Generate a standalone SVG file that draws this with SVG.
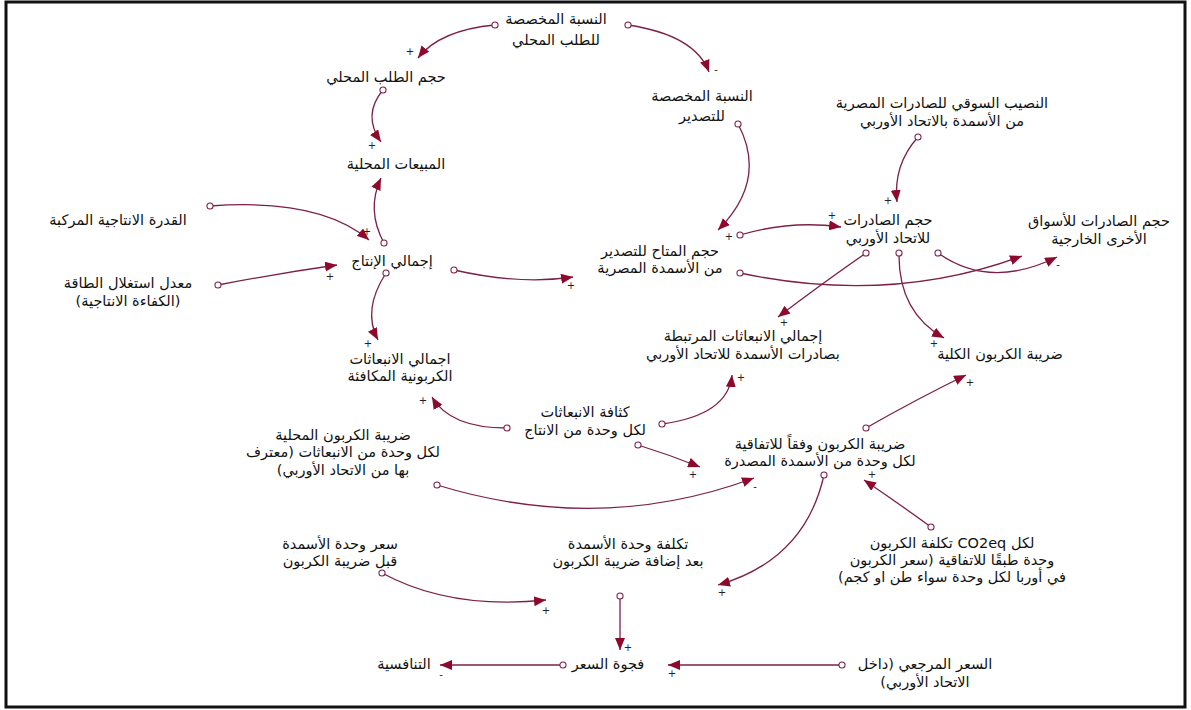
<svg xmlns="http://www.w3.org/2000/svg" width="1191" height="710" viewBox="0 0 1191 710">
<defs>
<style>
text{font-family:"DejaVu Sans","Noto Sans",sans-serif;font-size:14.5px;fill:#111;text-anchor:middle;direction:rtl;dominant-baseline:middle}
.s{font-size:10px;direction:ltr;fill:#222}
.c{fill:none;stroke:#7d2048;stroke-width:1.3;marker-start:url(#tc);marker-end:url(#ah)}
</style>
<marker id="ah" viewBox="0 0 12 10" refX="12" refY="5" markerWidth="12" markerHeight="10" markerUnits="userSpaceOnUse" orient="auto"><path d="M0,0 L12,5 L0,10 z" fill="#8e0a2c"/></marker>
<marker id="tc" viewBox="0 0 10 10" refX="5" refY="5" markerWidth="9" markerHeight="9" markerUnits="userSpaceOnUse"><circle cx="5" cy="5" r="3.4" fill="#fff" stroke="#7d2048" stroke-width="1.2"/></marker>
</defs>
<rect x="0" y="0" width="1191" height="710" fill="#fff"/>
<rect x="6" y="2" width="1179" height="705" fill="none" stroke="#111" stroke-width="3"/>

<g id="connectors">
<path class="c" d="M495,25 Q440,30 418,58"/>
<path class="c" d="M628,25 Q695,35 709,72"/>
<path class="c" d="M383,90 Q362,115 381,142"/>
<path class="c" d="M384,243 Q366,210 381,178"/>
<path class="c" d="M210,206 Q320,198 369,240"/>
<path class="c" d="M218,285 Q280,273 337,265"/>
<path class="c" d="M454,270 Q520,285 573,277"/>
<path class="c" d="M386,273 Q362,310 378,340"/>
<path class="c" d="M738,124 Q768,180 718,230"/>
<path class="c" d="M740,235 Q790,220 841,227"/>
<path class="c" d="M740,273 Q890,305 1022,256"/>
<path class="c" d="M938,253 Q990,290 1057,257"/>
<path class="c" d="M918,137 Q893,165 897,202"/>
<path class="c" d="M866,253 Q820,285 778,317"/>
<path class="c" d="M899,253 Q898,312 944,338"/>
<path class="c" d="M507,428 Q450,428 432,397"/>
<path class="c" d="M662,424 Q728,415 732,375"/>
<path class="c" d="M638,445 Q670,455 700,467"/>
<path class="c" d="M866,428 Q915,400 966,375"/>
<path class="c" d="M437,485 Q600,535 754,478"/>
<path class="c" d="M931,527 Q898,503 864,480"/>
<path class="c" d="M824,475 Q805,560 718,585"/>
<path class="c" d="M382,573 Q450,610 546,600"/>
<path class="c" d="M620,596 L620,650"/>
<path class="c" d="M842,665 L668,665"/>
<path class="c" d="M563,665 L440,665"/>
<g id="signs">
<text class="s" x="410" y="52">+</text>
<text class="s" x="716" y="70">-</text>
<text class="s" x="372" y="146">+</text>
<text class="s" x="367" y="232">+</text>
<text class="s" x="330" y="277">+</text>
<text class="s" x="571" y="286">+</text>
<text class="s" x="368" y="344">+</text>
<text class="s" x="729" y="237">+</text>
<text class="s" x="832" y="216">+</text>
<text class="s" x="1058" y="265">-</text>
<text class="s" x="888" y="201">+</text>
<text class="s" x="784" y="323">+</text>
<text class="s" x="934" y="344">+</text>
<text class="s" x="423" y="401">+</text>
<text class="s" x="741" y="378">+</text>
<text class="s" x="693" y="475">+</text>
<text class="s" x="970" y="383">+</text>
<text class="s" x="755" y="487">-</text>
<text class="s" x="872" y="475">+</text>
<text class="s" x="722" y="593">+</text>
<text class="s" x="546" y="611">+</text>
<text class="s" x="628" y="648">+</text>
<text class="s" x="672" y="674">+</text>
<text class="s" x="441" y="675">-</text>
</g>
</g>

<g id="n_local_share"><text x="556" y="20">النسبة المخصصة</text><text x="556" y="41">للطلب المحلي</text></g>
<g id="n_local_demand"><text x="386" y="78">حجم الطلب المحلي</text></g>
<g id="n_local_sales"><text x="396" y="165">المبيعات المحلية</text></g>
<g id="n_export_share"><text x="702" y="97">النسبة المخصصة</text><text x="702" y="117">للتصدير</text></g>
<g id="n_market_share"><text x="942" y="104">النصيب السوقي للصادرات المصرية</text><text x="942" y="122">من الأسمدة بالاتحاد الأوربي</text></g>
<g id="n_eu_exports"><text x="888" y="221">حجم الصادرات</text><text x="888" y="239">للاتحاد الأوربي</text></g>
<g id="n_other_exports"><text x="1099" y="222">حجم الصادرات للأسواق</text><text x="1099" y="240">الأخرى الخارجية</text></g>
<g id="n_capacity"><text x="118" y="221">القدرة الانتاجية المركبة</text></g>
<g id="n_total_production"><text x="392" y="262">إجمالي الإنتاج</text></g>
<g id="n_utilization"><text x="128" y="284">معدل استغلال الطاقة</text><text x="128" y="302">(الكفاءة الانتاجية)</text></g>
<g id="n_available_export"><text x="660" y="252">حجم المتاح للتصدير</text><text x="660" y="269">من الأسمدة المصرية</text></g>
<g id="n_total_emissions"><text x="400" y="360">اجمالي الانبعاثات</text><text x="400" y="377">الكربونية المكافئة</text></g>
<g id="n_eu_emissions"><text x="743" y="337">إجمالي الانبعاثات المرتبطة</text><text x="743" y="355">بصادرات الأسمدة للاتحاد الأوربي</text></g>
<g id="n_total_carbon_tax"><text x="1000" y="355">ضريبة الكربون الكلية</text></g>
<g id="n_emission_intensity"><text x="585" y="413">كثافة الانبعاثات</text><text x="585" y="431">لكل وحدة من الانتاج</text></g>
<g id="n_agreement_tax"><text x="820" y="445">ضريبة الكربون وفقاً للاتفاقية</text><text x="820" y="462">لكل وحدة من الأسمدة المصدرة</text></g>
<g id="n_local_tax"><text x="343" y="436">ضريبة الكربون المحلية</text><text x="343" y="453">لكل وحدة من الانبعاثات (معترف</text><text x="343" y="471">بها من الاتحاد الأوربي)</text></g>
<g id="n_price_before"><text x="340" y="545">سعر وحدة الأسمدة</text><text x="340" y="562">قبل ضريبة الكربون</text></g>
<g id="n_cost_after"><text x="628" y="545">تكلفة وحدة الأسمدة</text><text x="628" y="562">بعد إضافة ضريبة الكربون</text></g>
<g id="n_carbon_cost"><text x="952" y="544">لكل CO2eq تكلفة الكربون</text><text x="952" y="561">وحدة طبقًا للاتفاقية (سعر الكربون</text><text x="952" y="578">في أوربا لكل وحدة سواء طن او كجم)</text></g>
<g id="n_price_gap"><text x="608" y="665">فجوة السعر</text></g>
<g id="n_competitiveness"><text x="404" y="665">التنافسية</text></g>
<g id="n_reference_price"><text x="925" y="665">السعر المرجعي (داخل</text><text x="925" y="683">الاتحاد الأوربي)</text></g>
</svg>
